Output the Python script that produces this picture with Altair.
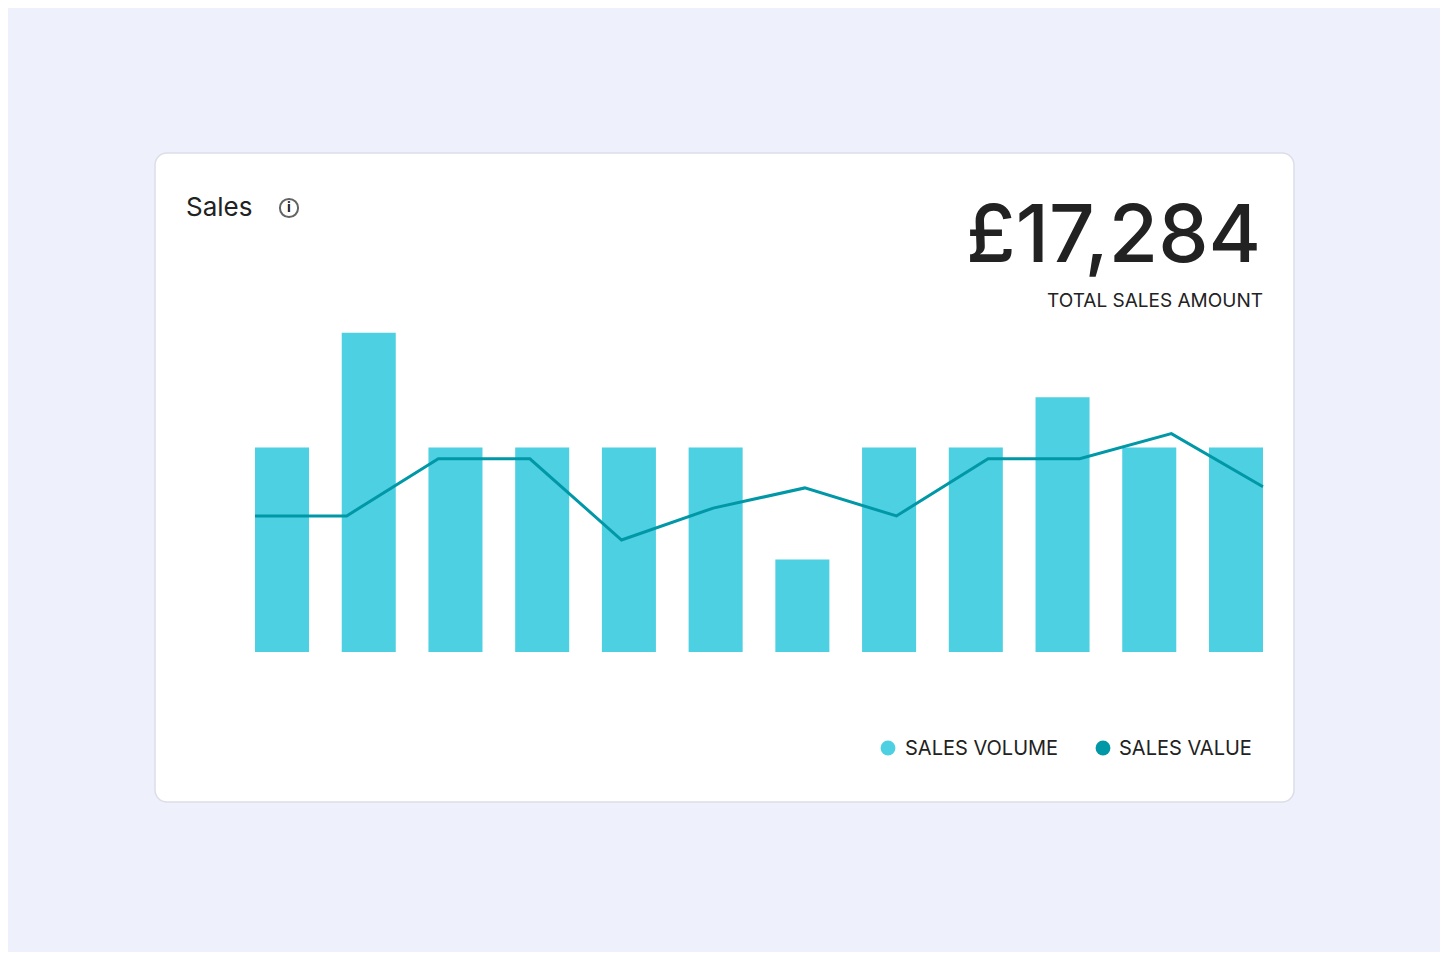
import pandas as pd
import altair as alt

months = ["Jan", "Feb", "Mar", "Apr", "May", "Jun", "Jul", "Aug", "Sep", "Oct", "Nov", "Dec"]
sales_volume = [73, 114, 73, 73, 73, 73, 33, 73, 73, 91, 73, 73]
sales_value = [48.6, 48.6, 69, 69, 40, 51.4, 58.6, 48.6, 69, 69, 78, 59]

FONT = "Inter"
BAR = "#4dd0e1"
LINE = "#0097a7"

df = pd.DataFrame({"month": months, "volume": sales_volume, "value": sales_value})
one = pd.DataFrame({"k": [0]})

# ---------- card + texts ----------
card = alt.Chart(one).mark_rect(
    fill="white", stroke="#dcdde8", strokeWidth=1.5, cornerRadius=12
).encode(x=alt.value(-100), x2=alt.value(1039), y=alt.value(-219), y2=alt.value(430))

def txt(s, x, y, size, align="left", color="#222", weight=400, baseline="middle"):
    return alt.Chart(one).mark_text(
        text=s, font=FONT, fontSize=size, align=align, baseline=baseline,
        color=color, fontWeight=weight
    ).encode(x=alt.value(x), y=alt.value(y))

texts = [
    txt("Sales", -69, -164, 26),
    txt("£17,284", 1006, -110, 80, align="right", baseline="alphabetic", weight=500),
    txt("TOTAL SALES AMOUNT", 1008, -71, 19, align="right"),
    txt("SALES VOLUME", 650, 377, 20),
    txt("SALES VALUE", 864, 377, 20),
    txt("i", 34, -164, 14, align="center", weight=700),
]

icon = alt.Chart(one).mark_point(
    shape="circle", size=330, stroke="#222", strokeWidth=2, filled=False
).encode(x=alt.value(34), y=alt.value(-164))

dots = alt.Chart(pd.DataFrame({"c": [BAR, LINE], "px": [633, 848]})).mark_point(
    shape="circle", size=220, filled=True, opacity=1
).encode(x=alt.X("px:Q", scale=None), y=alt.value(376), color=alt.Color("c:N", scale=None))

# ---------- data layers ----------
bars = alt.Chart(df).mark_bar(color=BAR, clip=False).encode(
    x=alt.X("month:N", sort=months, title=None,
            scale=alt.Scale(paddingInner=0.377, paddingOuter=0),
            axis=alt.Axis(labelAngle=0, labelFontSize=19, labelColor="#666",
                          labelFont=FONT, labelPadding=18, ticks=False, domain=False)),
    y=alt.Y("volume:Q", title=None, scale=alt.Scale(domain=[0, 100], nice=False),
            axis=alt.Axis(values=[0, 25, 50, 75, 100], labelExpr="datum.value + '%'",
                          labelFontSize=18, labelColor="#666", labelFont=FONT,
                          labelPadding=18, ticks=False, domain=False,
                          gridColor="#f0f0f3", gridWidth=1.5)),
)

line = alt.Chart(df).mark_line(color=LINE, strokeWidth=3).encode(
    x=alt.X("month:N", sort=months, scale=alt.Scale(type="point", padding=0), axis=None),
    y=alt.Y("value:Q", scale=alt.Scale(domain=[0, 100], nice=False), axis=None),
)

plot = alt.layer(bars, line).resolve_scale(x="independent")

chart = alt.layer(card, plot, icon, dots, *texts).properties(
    width=1008, height=280,
    padding={"left": 247, "top": 364, "right": 177, "bottom": 300},
    autosize=alt.AutoSizeParams(type="none"),
    background="#eef0fc",
).configure_view(stroke=None)

chart.save("out.html", embed_options={"renderer": "svg", "actions": False})
